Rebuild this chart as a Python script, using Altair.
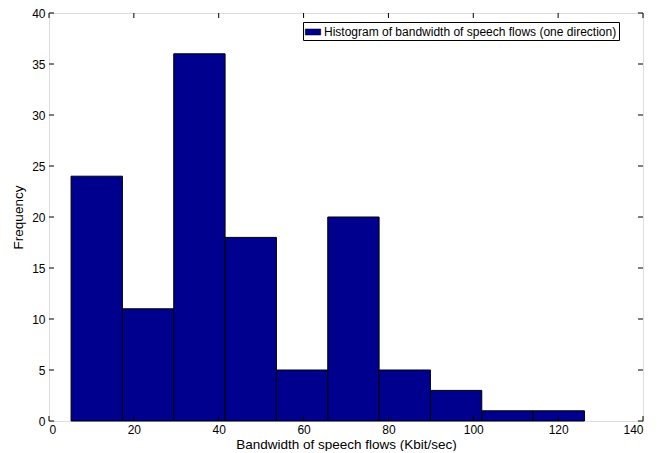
import altair as alt
import pandas as pd

# Histogram data
bin_starts = [5.2, 17.3, 29.4, 41.5, 53.6, 65.7, 77.8, 89.9, 102.0, 114.1]
bin_ends = [17.3, 29.4, 41.5, 53.6, 65.7, 77.8, 89.9, 102.0, 114.1, 126.2]
counts = [24, 11, 36, 18, 5, 20, 5, 3, 1, 1]
series_name = "Histogram of bandwidth of speech flows (one direction)"

x_ticks = [0, 20, 40, 60, 80, 100, 120, 140]
y_ticks = [0, 5, 10, 15, 20, 25, 30, 35, 40]

W, H = 594, 408
FONT = "Liberation Sans"
BAR = "#00008F"

bars_df = pd.DataFrame({
    "start": bin_starts,
    "end": bin_ends,
    "count": counts,
    "series": [series_name] * len(counts),
})
xt_df = pd.DataFrame({"x": x_ticks})
yt_df = pd.DataFrame({"y": y_ticks})

xscale = alt.Scale(domain=[0, 140], nice=False, zero=False)
yscale = alt.Scale(domain=[0, 40], nice=False)

bars = alt.Chart(bars_df).mark_rect(stroke="black", strokeWidth=1).encode(
    x=alt.X("start:Q", scale=xscale,
            axis=alt.Axis(values=x_ticks, title="Bandwidth of speech flows (Kbit/sec)",
                          ticks=False, domain=False, grid=False, labelPadding=3,
                          titlePadding=2, titleFontWeight="normal", titleFont=FONT,
                          titleFontSize=13.5, labelFont=FONT, labelFontSize=12)),
    x2="end:Q",
    y=alt.Y("count:Q", scale=yscale,
            axis=alt.Axis(values=y_ticks, title="Frequency", ticks=False, domain=False,
                          grid=False, labelPadding=4, titlePadding=6,
                          titleFontWeight="normal", titleFont=FONT, titleFontSize=13.5,
                          labelFont=FONT, labelFontSize=12)),
    y2=alt.datum(0),
    color=alt.Color("series:N", scale=alt.Scale(range=[BAR]),
                    legend=alt.Legend(title=None, orient="none", legendX=254, legendY=9,
                                      symbolType="M-1,-0.39H1V0.39H-1Z", symbolSize=240,
                                      symbolStrokeColor="black", symbolStrokeWidth=0.5,
                                      symbolOpacity=1, labelLimit=0,
                                      strokeColor="black", fillColor="white", padding=2,
                                      labelFont=FONT, labelFontSize=12, labelColor="black",
                                      labelOffset=3, cornerRadius=0)),
)

bottom_ticks = alt.Chart(xt_df).mark_rule(color="black", strokeWidth=1).encode(
    x=alt.X("x:Q", scale=xscale), y=alt.value(H), y2=alt.value(H - 5))
top_ticks = alt.Chart(xt_df).mark_rule(color="black", strokeWidth=1).encode(
    x=alt.X("x:Q", scale=xscale), y=alt.value(0), y2=alt.value(5))
left_ticks = alt.Chart(yt_df).mark_rule(color="black", strokeWidth=1).encode(
    y=alt.Y("y:Q", scale=yscale), x=alt.value(0), x2=alt.value(5))
right_ticks = alt.Chart(yt_df).mark_rule(color="black", strokeWidth=1).encode(
    y=alt.Y("y:Q", scale=yscale), x=alt.value(W), x2=alt.value(W - 5))

chart = alt.layer(bars, bottom_ticks, top_ticks, left_ticks, right_ticks).properties(
    width=W, height=H,
    autosize=alt.AutoSizeParams(type="none"),
    padding={"left": 41, "top": 5, "right": 5, "bottom": 30},
).configure_view(
    stroke="black", strokeWidth=1
).configure_axis(
    labelColor="black", titleColor="black",
).configure(background="white")

chart.save("out.html", embed_options={"renderer": "svg", "actions": False})
